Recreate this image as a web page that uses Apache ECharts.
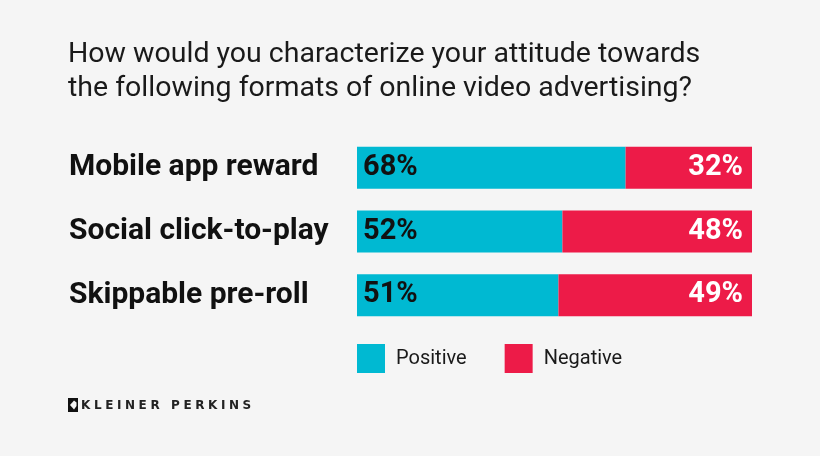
<!DOCTYPE html>
<html>
<head>
<meta charset="utf-8">
<script src="https://cdn.jsdelivr.net/npm/echarts@6/dist/echarts.min.js"></script>
<style>
html,body{margin:0;padding:0;background:#f5f5f5;}
#c{width:820px;height:456px;}
</style>
</head>
<body>
<div id="c"></div>
<script>
const titleText = "How would you characterize your attitude towards\nthe following formats of online video advertising?";
const categories = ["Mobile app reward", "Social click-to-play", "Skippable pre-roll"];
const positive = [68, 52, 51];
const negative = [32, 48, 49];
const seriesNames = ["Positive", "Negative"];
const brand = "KLEINER PERKINS";

const chart = echarts.init(document.getElementById('c'), null, {renderer: 'canvas'});
const spaced = brand.split('').join('\u2009\u200A');
chart.setOption({
  backgroundColor: '#f5f5f5',
  animation: false,
  title: {
    text: titleText,
    left: 63, top: 33,
    textStyle: {fontFamily: 'Roboto', fontWeight: 'normal', fontSize: 28.5, lineHeight: 34, color: '#1a1a1a'}
  },
  legend: {
    data: seriesNames,
    left: 352, top: 339,
    itemWidth: 28, itemHeight: 29, itemGap: 38,
    icon: 'rect',
    textStyle: {fontFamily: 'Roboto', fontSize: 20, color: '#1a1a1a', padding: [0, 0, 0, 6]}
  },
  grid: {left: 357, right: 68, top: 136, bottom: 129, containLabel: false},
  xAxis: {type: 'value', min: 0, max: 100, show: false},
  yAxis: {
    type: 'category', data: categories, inverse: true,
    axisLine: {show: false}, axisTick: {show: false}, splitLine: {show: false},
    axisLabel: {
      margin: 288, align: 'left',
      fontFamily: 'Roboto', fontWeight: 'bold', fontSize: 30, color: '#111'
    }
  },
  series: [
    {
      name: seriesNames[0], type: 'bar', stack: 'a', data: positive, barWidth: 42,
      itemStyle: {color: '#00b9d2'},
      label: {show: true, position: 'insideLeft', distance: 6, formatter: '{c}%',
        fontFamily: 'Roboto', fontWeight: 'bold', fontSize: 29, color: '#111'}
    },
    {
      name: seriesNames[1], type: 'bar', stack: 'a', data: negative, barWidth: 42,
      itemStyle: {color: '#ed1b48'},
      label: {show: true, position: 'insideRight', distance: 9, formatter: '{c}%',
        fontFamily: 'Roboto', fontWeight: 'bold', fontSize: 29, color: '#fff'}
    }
  ],
  graphic: [
    {type: 'rect', left: 68, top: 398, shape: {width: 10, height: 14}, style: {fill: '#111'}},
    {type: 'polygon', shape: {points: [[70, 405], [74, 400.5], [76.5, 402.5], [76.5, 406], [74, 409.5]]}, style: {fill: '#f5f5f5'}},
    {type: 'text', left: 81, top: 399.5, style: {text: spaced, fontFamily: 'DejaVu Sans', fontWeight: 'bold', fontSize: 12, fill: '#222'}}
  ]
});
</script>
</body>
</html>
